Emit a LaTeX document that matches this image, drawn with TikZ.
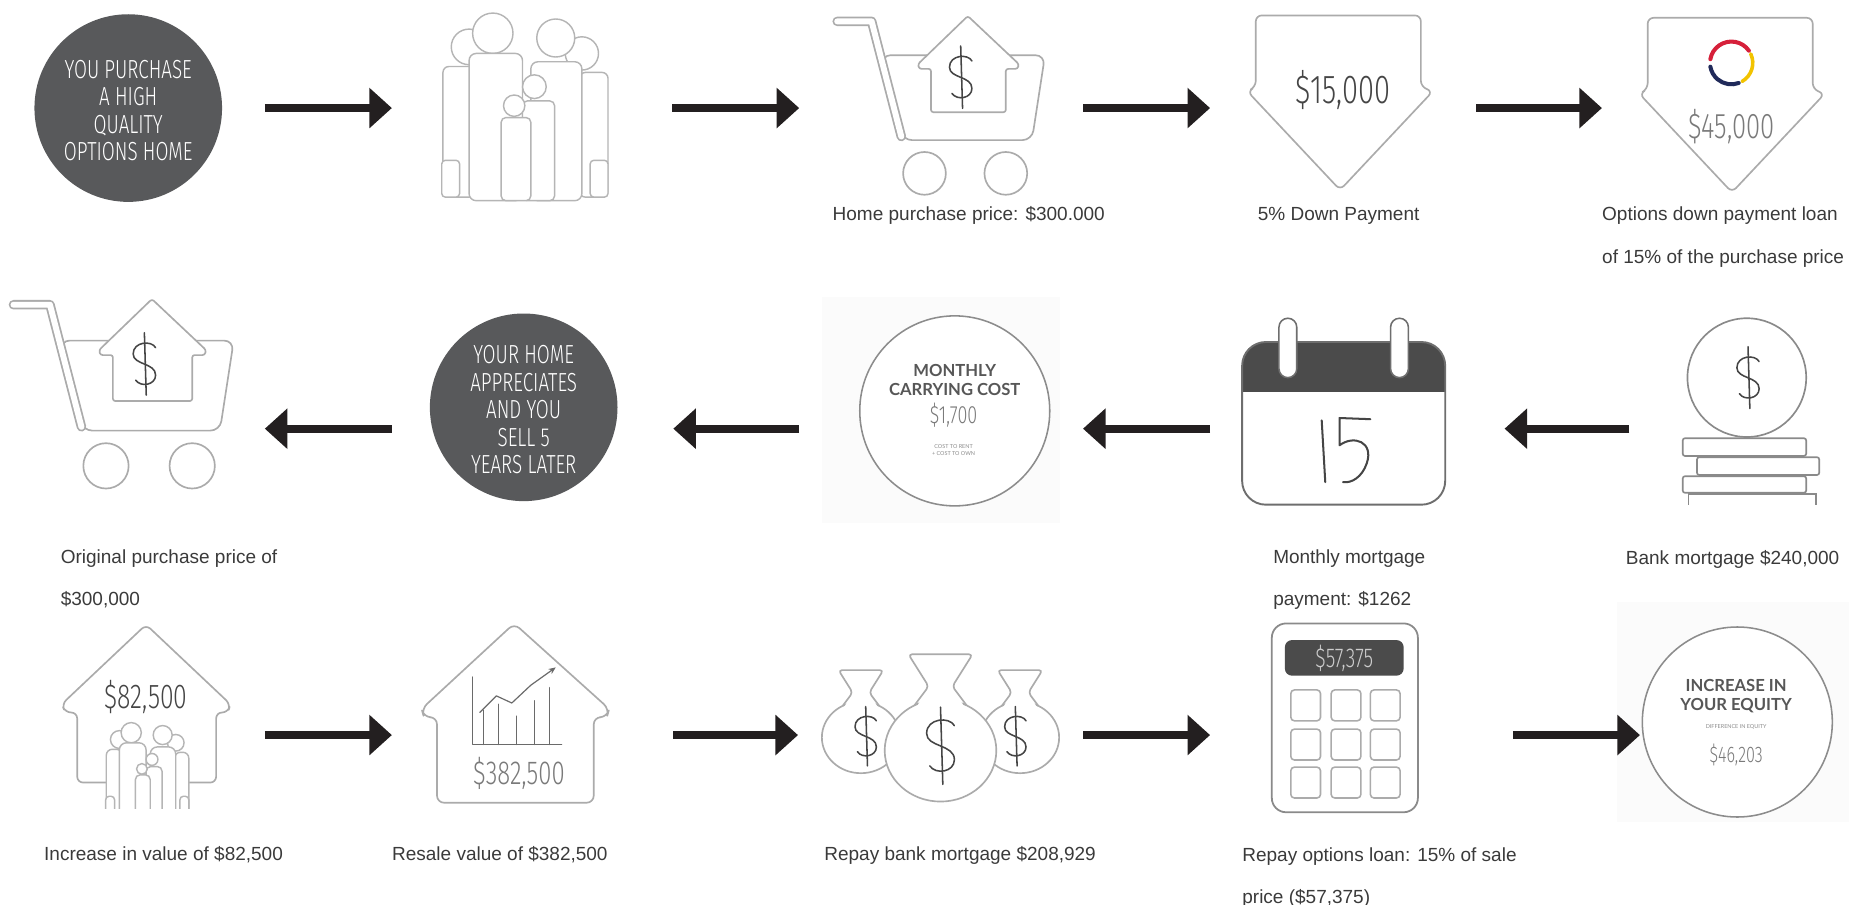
\documentclass[tikz,border=0pt]{standalone}
\usepackage{fontspec}
\setmainfont{Liberation Sans}
\newfontfamily\markerfont[FakeStretch=0.72]{Fira Sans Light}
\newfontfamily\boldsans{Lato}
\usetikzlibrary{arrows.meta}

\definecolor{ink}{HTML}{231F20}
\definecolor{discgray}{HTML}{58595B}
\definecolor{iconline}{HTML}{ABABAB}
\definecolor{figline}{HTML}{B5B5B5}
\definecolor{darkline}{HTML}{8A8A8A}
\definecolor{caledge}{HTML}{6E6E6E}
\definecolor{calhead}{HTML}{4B4B4B}
\definecolor{pen}{HTML}{454545}
\definecolor{pale}{HTML}{7A7A7A}
\definecolor{captext}{HTML}{3A3A3A}
\definecolor{ringline}{HTML}{8C8C8C}
\definecolor{headgray}{HTML}{575757}
\definecolor{haze}{HTML}{FBFBFB}
\definecolor{logored}{HTML}{D6203A}
\definecolor{logoyellow}{HTML}{F2C300}
\definecolor{logonavy}{HTML}{202A5A}

\newcommand\hand[1]{\markerfont\fontsize{#1}{#1}\selectfont}

\tikzset{
  flow/.style={draw=ink, line width=7pt, -{Triangle[length=19pt,width=33pt]}},
  slot/.style={rectangle, draw=none, inner sep=0pt, outer sep=0pt, minimum height=2pt},
  disc/.style={circle, fill=discgray, draw=none, minimum size=158pt, inner sep=0pt, outer sep=0pt},
  ringdisc/.style={circle, draw=ringline, line width=1.3pt, fill=white, minimum size=160pt, inner sep=0pt, outer sep=0pt},
  marker/.style={align=center, inner sep=0pt},
  disctext/.style={marker, text=white, font=\markerfont\fontsize{22}{23.2}\selectfont},
  icon/.style={draw=iconline, line width=1.4pt, fill=white, line join=round},
  figure/.style={draw=figline, line width=1.2pt, fill=white},
  handink/.style={draw=pen, line width=1.3pt, line cap=round, line join=round},
  chartink/.style={draw=pen!80, line width=1pt, line cap=round, line join=round},
  caption/.style={font=\fontsize{16}{35.5}\selectfont, text=captext, inner sep=0pt, align=left},
  headtext/.style={font=\boldsans\bfseries\fontsize{14}{15.6}\selectfont, text=headgray, align=center, inner sep=0pt},
  tinytext/.style={font=\boldsans\fontsize{4.6}{6}\selectfont, text=black!45, align=center, inner sep=0pt},
  % hand-drawn dollar sign, 50 units tall, centred on the origin
  dollar/.pic={
    \draw[handink] (0,-25) -- (1.5,25);
    \draw[handink] (9,-13) .. controls (6,-19) and (-9,-18) .. (-9,-8)
      .. controls (-9,1) and (9,-1) .. (9,9)
      .. controls (9,17) and (-3,19) .. (-7,13);
  },
  % shopping cart carrying a house
  cart/.pic={
    \draw[icon, rounded corners=8] (-49,-44.5) -- (89,-44.5) -- (78,27) -- (-31,27) -- cycle;
    \draw[iconline, line width=8pt, line cap=round, line join=round] (-86,-73) -- (-57,-73) -- (-32,24);
    \draw[white, line width=5pt, line cap=round, line join=round] (-86,-73) -- (-57,-73) -- (-32,24);
    \draw[icon, rounded corners=2] (24,-77.5) -- (67,-37) -- (66,-33) -- (56,-33) -- (56,3.5)
      -- (-7,3.5) -- (-7,-33) -- (-17,-33) -- (-18,-37) -- cycle;
    \draw[icon] (-12.5,55) circle[radius=18];
    \draw[icon] (56,55) circle[radius=18];
    \pic[scale=1.05] at (18,-26) {dollar};
  },
  % family of six standing together
  family/.pic={
    \draw[figure] (-47,-50.5) circle[radius=15];
    \draw[figure, rounded corners=5] (-69,-34) rectangle (-42,76);
    \draw[figure] (48,-45) circle[radius=14];
    \draw[figure, rounded corners=5] (46,-29) rectangle (70,76);
    \draw[figure, rounded corners=3] (-70,45) rectangle (-55,76);
    \draw[figure, rounded corners=3] (55,45) rectangle (70,76);
    \draw[figure] (-27,-62) circle[radius=17];
    \draw[figure, rounded corners=6] (-47,-45) rectangle (-2,79);
    \draw[figure] (26,-58) circle[radius=16];
    \draw[figure, rounded corners=6] (5,-38) rectangle (48,79);
    \draw[figure] (8,-17) circle[radius=10];
    \draw[figure, rounded corners=4] (-2,-5) rectangle (25,79);
    \draw[figure] (-9,-1) circle[radius=9];
    \draw[figure, rounded corners=4] (-20,9) rectangle (5,79);
  },
  % downward pointing arrow badge
  downbadge/.pic={
    \draw[icon, rounded corners=5] (-71,-73) -- (68,-73) -- (68,-13) -- (78,-9) -- (0,74)
      -- (-78,-9) -- (-71,-13) -- cycle;
  },
  % money bag, body centred on the origin
  moneybag/.pic={
    \draw[icon] (0,0) ellipse[x radius=47, y radius=43];
    \fill[white] (-21,-35) -- (-10,-54) -- (-27,-81) -- (27,-81) -- (10,-54) -- (21,-35) -- cycle;
    \draw[iconline, line width=1.4pt, rounded corners=3, line join=round]
      (-22,-38) -- (-10,-54) -- (-27,-81) -- (27,-81) -- (10,-54) -- (22,-38);
  }
}

\begin{document}
\begin{tikzpicture}[x=1pt,y=-1pt]
\useasboundingbox (0,0) rectangle (1568,762);

% ---------- faint photo backdrops ----------
\fill[haze] (692,250) rectangle (893,440);
\fill[haze] (1362,507) rectangle (1557,692);

% ================= ROW 1 =================
\node[disc] (buy) at (108,91) {};
\node[disctext] (buyText) at (108,93) {YOU PURCHASE\\A HIGH\\QUALITY\\OPTIONS HOME};

\pic at (442,90) {family};
\node[slot, minimum width=140pt] (family) at (442,91) {};

\pic at (791,91) {cart};
\node[slot, minimum width=178pt] (cart) at (791,91) {};
\node[caption, anchor=base west] (capCart) at (701,186) {Home purchase price: \$300.000};

\pic at (1128.5,86) {downbadge};
\node[marker, font=\hand{34}, text=pen] (downAmt) at (1131,76) {\$15,000};
\node[slot, minimum width=157pt] (down) at (1128.5,91) {};
\node[caption, anchor=base west] (capDown) at (1059,186) {5\% Down Payment};

\pic at (1458.5,88) {downbadge};
\coordinate (logoC) at (1458,53);
\draw[logored, line width=3.4pt, line cap=round] ([shift={(190:18)}]logoC) arc[start angle=190, end angle=325, radius=18];
\draw[logoyellow, line width=3pt, line cap=round] ([shift={(335:18)}]logoC) arc[start angle=335, end angle=420, radius=18];
\draw[logonavy, line width=3.4pt, line cap=round] ([shift={(70:18)}]logoC) arc[start angle=70, end angle=170, radius=18];
\node[marker, font=\hand{30}, text=pale] (loanAmt) at (1458,107) {\$45,000};
\node[slot, minimum width=160pt] (loan) at (1461,91) {};
\node[caption, anchor=north west] (capLoan) at (1349,174.3) {Options down payment loan\\of 15\% of the purchase price};

\draw[flow, shorten <=36pt, shorten >=42pt] (buy.east) -- (family.west);
\draw[flow, shorten <=54pt, shorten >=29pt] (family.east) -- (cart.west);
\draw[flow, shorten <=32pt, shorten >=31pt] (cart.east) -- (down.west);
\draw[flow, shorten <=36pt, shorten >=32pt] (down.east) -- (loan.west);

% ================= ROW 2 =================
% bank coins
\draw[draw=darkline, line width=1.4pt, fill=white, rounded corners=2] (1417,369) rectangle (1521,384);
\draw[draw=darkline, line width=1.4pt, fill=white, rounded corners=2] (1429,385) rectangle (1532,400);
\draw[draw=darkline, line width=1.4pt, fill=white, rounded corners=2] (1417,401) rectangle (1521,415);
\draw[draw=darkline, line width=1.4pt] (1422,425) -- (1422,416) -- (1529,416) -- (1529,425);
\draw[draw=darkline, line width=1.4pt, fill=white] (1471,318) circle[radius=50];
\pic[scale=1.04] at (1472,318) {dollar};
\node[slot, minimum width=115pt] (bank) at (1474.5,361) {};
\node[caption, anchor=base west] (capBank) at (1369,475) {Bank mortgage \$240,000};

% calendar
\begin{scope}
  \clip[rounded corners=20] (1046,288) rectangle (1217,425);
  \fill[white] (1046,288) rectangle (1217,425);
  \fill[calhead] (1046,288) rectangle (1217,330);
\end{scope}
\draw[caledge, line width=1.6pt, rounded corners=20] (1046,288) rectangle (1217,425);
\draw[caledge, line width=1.3pt, fill=white, rounded corners=7.5] (1077,268) rectangle (1092,318);
\draw[caledge, line width=1.3pt, fill=white, rounded corners=7.5] (1171,268) rectangle (1186,318);
\draw[handink, line width=1.7pt] (1113,354) -- (1116,406);
\draw[handink, line width=1.7pt] (1154,353) -- (1128,352) -- (1128,375)
  .. controls (1140,366) and (1157,372) .. (1151,390)
  .. controls (1147,402) and (1138,407) .. (1131,406);
\node[slot, minimum width=171pt] (calendar) at (1131.5,361) {};
\node[caption, anchor=north west] (capMonthly) at (1072,463) {Monthly mortgage\\payment: \$1262};

% monthly carrying cost
\node[ringdisc] (carryRing) at (804,346) {};
\node[headtext] (carryHead) at (804,320) {MONTHLY\\CARRYING COST};
\node[marker, font=\hand{21}, text=pale] (carryAmt) at (803,350) {\$1,700};
\node[tinytext] (carryNote) at (803,379) {COST TO RENT\\+ COST TO OWN};
\node[slot, minimum width=160pt] (carry) at (804,361) {};

% sell disc
\node[disc] (sellDisc) at (441,343) {};
\node[disctext] (sellText) at (441,345) {YOUR HOME\\APPRECIATES\\AND YOU\\SELL 5\\YEARS LATER};
\node[slot, minimum width=158pt] (sell) at (441,361) {};

% cart again
\pic[scale=1.06] at (102.5,334) {cart};
\node[slot, minimum width=189pt] (cartAgain) at (102.5,361) {};
\node[caption, anchor=north west] (capOrig) at (51,463) {Original purchase price of\\\$300,000};

\draw[flow, shorten <=45pt, shorten >=50pt] (bank.west) -- (calendar.east);
\draw[flow, shorten <=27pt, shorten >=28pt] (calendar.west) -- (carry.east);
\draw[flow, shorten <=51pt, shorten >=47pt] (carry.west) -- (sell.east);
\draw[flow, shorten <=32pt, shorten >=26pt] (sell.west) -- (cartAgain.east);

% ================= ROW 3 =================
% house with value gain
\draw[icon, rounded corners=5] (123,526) -- (194,593) -- (192,600) -- (182,600) -- (182,659)
  -- (65,659) -- (65,600) -- (55,600) -- (52,593) -- cycle;
\node[marker, font=\hand{29}, text=pen] (gainAmt) at (123,587) {\$82,500};
\begin{scope}
  \clip (40,600) rectangle (205,681);
  \pic[scale=0.5] at (124,648) {family};
\end{scope}
\node[slot, minimum width=141pt] (gain) at (122.5,619) {};
\node[caption, anchor=base west] (capGain) at (37,725) {Increase in value of \$82,500};

% house with rising chart
\draw[icon, rounded corners=6] (433,525) -- (513,597) -- (511,604) -- (500,604) -- (500,676)
  -- (368,676) -- (368,604) -- (357,604) -- (355,597) -- cycle;
\draw[chartink] (398,570) -- (398,627) -- (473,627);
\foreach \bx/\by in {407/598, 420/593, 435/603, 450/590, 463/579}
  \draw[chartink] (\bx,627) -- (\bx,\by);
\draw[chartink, -{Stealth[length=6pt,width=5pt]}] (404,600) -- (418,586) -- (431,592) -- (447,577) -- (468,562);
\node[marker, font=\hand{28}, text=pale] (resaleAmt) at (437,651) {\$382,500};
\node[slot, minimum width=157pt] (resale) at (433.5,619) {};
\node[caption, anchor=base west] (capResale) at (330,725) {Resale value of \$382,500};

% money bags
\pic[scale=0.7] at (725,621) {moneybag};
\pic[scale=0.7] at (859,621) {moneybag};
\pic at (792,632) {moneybag};
\pic[scale=1.0] at (729,620) {dollar};
\pic[scale=1.0] at (855,620) {dollar};
\pic[scale=1.3] at (792,628) {dollar};
\node[slot, minimum width=196pt] (repay) at (791,619) {};
\node[caption, anchor=base west] (capRepay) at (694,725) {Repay bank mortgage \$208,929};

% calculator
\draw[draw=darkline, line width=1.5pt, fill=white, rounded corners=12] (1071,525) rectangle (1194,684);
\fill[calhead, rounded corners=6] (1082,539) rectangle (1182,569);
\node[marker, font=\hand{23}, text=white!80!black] (calcAmt) at (1132,554) {\$57,375};
\foreach \kx in {1087,1121,1154}
  \foreach \ky in {581,614,646}
    \draw[draw=iconline, line width=1.3pt, rounded corners=3] (\kx,\ky) rectangle ++(25,26);
\node[slot, minimum width=123pt] (calc) at (1132.5,619) {};
\node[caption, anchor=north west] (capCalc) at (1046,713.5) {Repay options loan: 15\% of sale\\price (\$57,375)};

% equity result
\node[ringdisc] (equityRing) at (1463,608) {};
\node[headtext] (equityHead) at (1462,586) {INCREASE IN\\YOUR EQUITY};
\node[tinytext] (equityNote) at (1462,612) {DIFFERENCE IN EQUITY};
\node[marker, font=\hand{19}, text=pale] (equityAmt) at (1462,636) {\$46,203};
\node[slot, minimum width=162pt] (equity) at (1463,619) {};

\draw[flow, shorten <=30pt, shorten >=25pt] (gain.east) -- (resale.west);
\draw[flow, shorten <=55pt, shorten >=21pt] (resale.east) -- (repay.west);
\draw[flow, shorten <=23pt, shorten >=52pt] (repay.east) -- (calc.west);
\draw[flow, shorten <=80pt, shorten >=1pt] (calc.east) -- (equity.west);

\end{tikzpicture}
\end{document}
